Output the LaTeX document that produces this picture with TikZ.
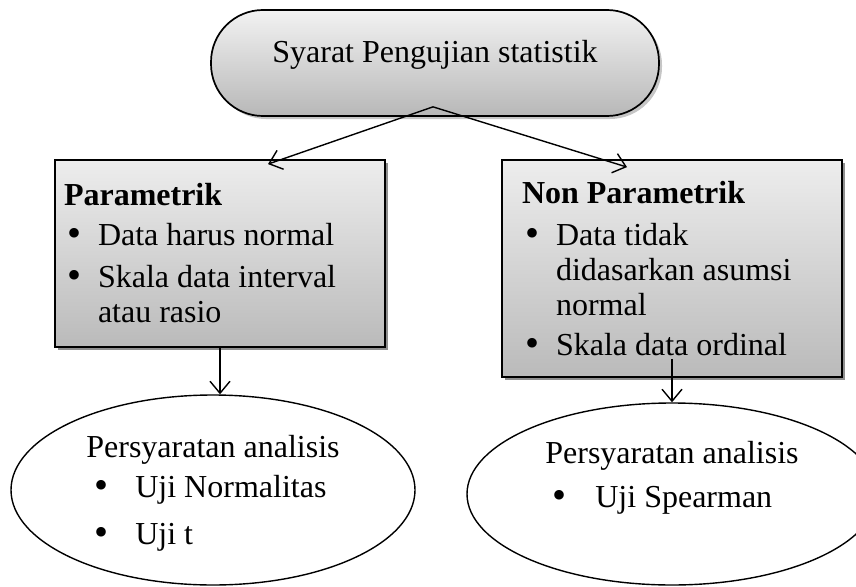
\documentclass[tikz,border=0pt]{standalone}
\usepackage{fontspec}
\setmainfont{Liberation Serif}
\usetikzlibrary{positioning, arrows.meta, shapes.geometric, calc, shadows}

\newcommand{\bigdot}{{\fontsize{40}{35}\selectfont\raisebox{-1pt}{\textbullet}}}
\newcommand{\bulitem}{\hspace*{3pt}\makebox[31pt][l]{\bigdot}}
\newcommand{\bulgap}[2]{\hspace*{#1}\makebox[#2][l]{\bigdot}}

\tikzset{
  pillbox/.style={
    draw=black, line width=1.7pt, rounded corners=52pt,
    top color=black!5, bottom color=black!28,
    drop shadow={shadow xshift=3pt, shadow yshift=-3pt, opacity=0.45}
  },
  greybox/.style={
    draw=black, line width=1.8pt, align=flush left,
    top color=black!7, bottom color=black!27,
    drop shadow={shadow xshift=3pt, shadow yshift=-3pt, fill=black!55, opacity=0.8}
  },
  analysis/.style={
    ellipse, draw=black, line width=1.4pt, align=left, inner sep=0pt
  },
  arrowstyle/.style={
    -{Straight Barb[length=12pt, width=20pt, line width=1.4pt]}, line width=1.4pt
  },
}

\begin{document}
\begin{tikzpicture}[
  x=1pt, y=-1pt,
  every node/.style={font=\fontsize{32}{35}\selectfont}
]
\useasboundingbox (0,0) rectangle (856,586);

% ---- top ----
\node[pillbox, minimum width=448pt, minimum height=106pt, text depth=24pt]
  (syarat) at (435,63) {Syarat Pengujian statistik};

% ---- two boxes ----
\node[greybox, minimum width=330pt, minimum height=187pt, text width=312pt,
      inner xsep=9pt] (param) at (220,253.5) {%
  \textbf{Parametrik}\\[5pt]
  \bulitem Data harus normal\\[7pt]
  \bulitem Skala data interval\\
  \hspace*{34pt}atau rasio};

\node[greybox, minimum width=340pt, minimum height=217pt, text width=300pt,
      inner xsep=20pt] (nonparam) at (672,268.5) {%
  \textbf{Non Parametrik}\\[7pt]
  \bulitem Data tidak\\
  \hspace*{34pt}didasarkan asumsi\\
  \hspace*{34pt}normal\\[5pt]
  \bulitem Skala data ordinal};

\coordinate (split) at ([xshift=-2pt, yshift=10pt]syarat.south);
\draw[arrowstyle] (split) -- ([xshift=48pt, yshift=-5pt]param.north);
\draw[arrowstyle] (split) -- ([xshift=-45pt, yshift=-8pt]nonparam.north);

% ---- analysis ----
\node[analysis, minimum width=404pt, minimum height=190pt, text depth=0pt]
  (anparam) at (213,490) {%
  Persyaratan analisis\\[5pt]
  \bulgap{8pt}{41pt}Uji Normalitas\\[12pt]
  \bulgap{8pt}{41pt}Uji t};

\node[analysis, minimum width=410pt, minimum height=182pt, text depth=40pt]
  (annonparam) at (672,494) {%
  Persyaratan analisis\\[9pt]
  \bulgap{7pt}{43pt}Uji Spearman};

\draw[arrowstyle] (param.south) -- (param.south |- anparam.north);
\draw[arrowstyle] ([yshift=19pt]nonparam.south) -- (annonparam.north);

\end{tikzpicture}
\end{document}
